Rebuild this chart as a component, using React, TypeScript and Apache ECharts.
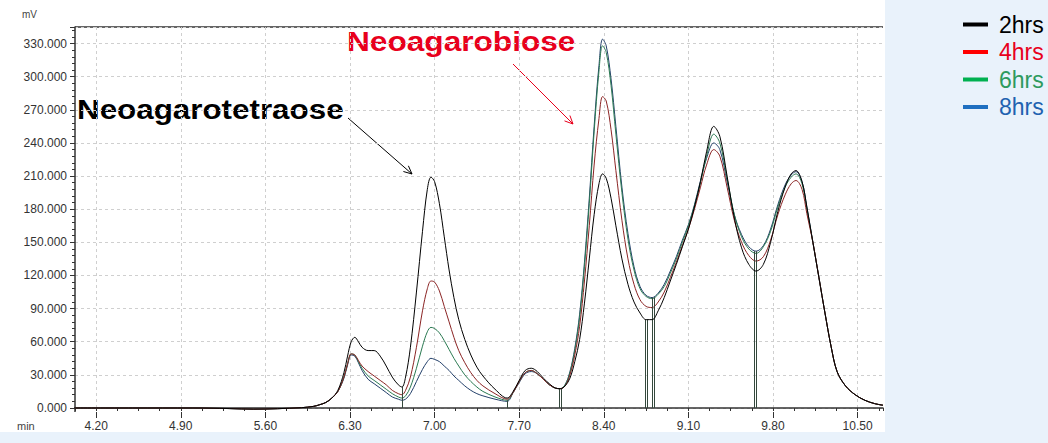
import React, { useEffect, useRef } from "react";
import * as echarts from "echarts";

// Retention time (min)
const times = [
  4.02, 4.5, 5.0, 5.3, 5.5, 5.7, 5.9, 6.0, 6.05, 6.1, 6.15, 6.2, 6.25, 6.28, 6.31, 6.34, 6.37, 6.4, 6.45, 6.5,
  6.55, 6.6, 6.65, 6.7, 6.73, 6.76, 6.8, 6.85, 6.9, 6.94, 6.97, 7.0, 7.04, 7.08, 7.12, 7.16, 7.2, 7.25, 7.3, 7.35,
  7.4, 7.5, 7.6, 7.65, 7.7, 7.75, 7.8, 7.85, 7.9, 7.95, 8.0, 8.04, 8.08, 8.12, 8.16, 8.2, 8.24, 8.28, 8.32, 8.36,
  8.39, 8.42, 8.46, 8.5, 8.55, 8.6, 8.65, 8.7, 8.75, 8.8, 8.85, 8.9, 8.95, 9.0, 9.05, 9.1, 9.15, 9.2, 9.25, 9.31,
  9.36, 9.42, 9.48, 9.54, 9.6, 9.66, 9.72, 9.78, 9.84, 9.9, 9.95, 9.99, 10.04, 10.08, 10.13, 10.18, 10.23, 10.28, 10.33, 10.4,
  10.48, 10.56, 10.64, 10.71,
];

// Signal (mV)
const hrs2 = [
  0, 0, 0, -0.5, -1, -0.6, 0.3, 1.5, 3, 5, 9, 16, 32, 47, 60, 64, 60, 55, 52, 52,
  47, 38, 28, 21, 19, 28, 55, 105, 160, 198, 209, 205, 185, 155, 125, 100, 80, 62, 48, 37,
  29, 17, 9, 15, 25, 34, 36, 33, 27, 22, 18, 17.5, 20, 27, 42, 62, 95, 135, 175, 203,
  212, 208, 190, 165, 135, 112, 96, 86, 80, 80, 88, 100, 115, 130, 146, 162, 182, 205, 232, 255,
  246, 210, 172, 145, 130, 124, 130, 150, 178, 200, 212, 215, 205, 182, 150, 118, 86, 56, 33, 20,
  12, 7, 4, 2.5,
];
const hrs4 = [
  0, 0, 0, -0.5, -1, -0.6, 0.3, 1.5, 3, 5, 9, 15, 28, 40, 49, 48, 43, 38, 33, 29,
  25, 21, 16, 13, 12, 16, 28, 55, 88, 108, 115, 114, 106, 92, 78, 64, 52, 41, 32, 25,
  20, 13, 8, 14, 24, 32, 34, 31, 26, 21, 18, 17.5, 20, 30, 48, 74, 115, 165, 220, 262,
  282, 278, 252, 215, 170, 135, 112, 98, 92, 91, 96, 105, 118, 132, 147, 162, 180, 200, 220, 234,
  228, 200, 170, 150, 138, 133, 137, 152, 175, 193, 203, 206, 198, 176, 150, 118, 86, 56, 33, 20,
  12, 7, 4, 2.5,
];
const hrs6 = [
  0, 0, 0, -0.5, -1, -0.6, 0.3, 1.5, 3, 5, 9, 15, 28, 40, 49, 48, 42, 36, 29, 25,
  21, 17, 13, 10, 9, 11, 19, 36, 56, 69, 73, 72, 68, 61, 53, 45, 38, 30, 24, 19,
  15, 10, 7, 14, 24, 32, 34, 31, 26, 21, 18, 17.5, 21, 32, 52, 82, 128, 185, 250, 305,
  328, 322, 292, 248, 195, 153, 125, 108, 101, 99, 103, 110, 122, 135, 150, 165, 183, 204, 228, 248,
  240, 208, 175, 155, 144, 140, 146, 160, 182, 200, 209, 212, 203, 180, 150, 118, 86, 56, 33, 20,
  12, 7, 4, 2.5,
];
const hrs8 = [
  0, 0, 0, -0.5, -1, -0.6, 0.3, 1.5, 3, 5, 9, 15, 27, 39, 48, 47, 41, 34, 26, 22,
  18, 14, 10, 8, 7, 8, 13, 24, 35, 42, 45, 44, 42, 38, 34, 29, 25, 20, 16, 13,
  11, 8, 6, 14, 23, 31, 33, 31, 26, 21, 18, 17.5, 21, 33, 54, 85, 132, 190, 255, 310,
  334, 328, 298, 255, 200, 158, 128, 110, 102, 100, 104, 112, 124, 137, 152, 166, 184, 206, 226, 240,
  234, 205, 175, 157, 146, 142, 147, 162, 184, 202, 211, 214, 205, 182, 150, 118, 86, 56, 33, 20,
  12, 7, 4, 2.5,
];

const seriesNames = ["2hrs", "4hrs", "6hrs", "8hrs"];
const seriesValues = [hrs2, hrs4, hrs6, hrs8];
const traceColors = ["#000000", "#8b2424", "#2b7a52", "#23406a"];
const legendLineColors = ["#000000", "#ff0000", "#00b050", "#1f6fc0"];
const legendTextColors = ["#000000", "#e8001c", "#2e9a5e", "#1f62b0"];

// Integration drop lines (time, height)
const dropTimes = [6.73, 7.6, 8.03, 8.045, 8.745, 8.76, 8.8, 8.815, 9.645, 9.66];
const dropValues = [19, 7, 17.5, 17.5, 80, 80, 100, 100, 142, 142];

const xMajorTicks = [4.2, 4.9, 5.6, 6.3, 7.0, 7.7, 8.4, 9.1, 9.8, 10.5];
const xMin = 4.025;
const xMax = 10.71;
const xMinorStep = 0.175;
const yMax = 345;
const yStep = 30;

export default function App() {
  const ref = useRef<HTMLDivElement>(null);

  useEffect(() => {
    document.body.style.margin = "0";
    if (!ref.current) return;
    const chart = echarts.init(ref.current, null, { renderer: "svg" });

    const lineSeries = seriesNames.map((name, i) => ({
      name,
      type: "line",
      xAxisIndex: 0,
      yAxisIndex: 0,
      data: times.map((t, k) => [t, seriesValues[i][k]]),
      showSymbol: false,
      symbol: "none",
      smooth: 0.35,
      clip: false,
      lineStyle: { color: traceColors[i], width: 1 },
      itemStyle: { color: traceColors[i] },
      z: 5 - i,
      markLine:
        i === 0
          ? {
              silent: true,
              symbol: ["none", "none"],
              label: { show: false },
              lineStyle: { color: "#34483c", width: 1, type: "solid" },
              data: dropTimes.map((t, k) => [
                { coord: [t, 0] },
                { coord: [t, dropValues[k]] },
              ]),
            }
          : undefined,
    }));

    const labelFont = {
      fontFamily: "Liberation Sans, Arial, sans-serif",
      fontSize: 12,
      color: "#333",
    };

    const option: any = {
      animation: false,
      backgroundColor: "transparent",
      grid: { left: 75, right: 165, top: 27, bottom: 35, containLabel: false },
      xAxis: [
        {
          type: "value",
          min: xMin,
          max: xMax,
          interval: xMinorStep,
          offset: 4,
          axisLine: { show: true, lineStyle: { color: "#333", width: 1.5 } },
          axisTick: { show: true, length: 3, lineStyle: { color: "#333" } },
          axisLabel: { show: false },
          splitLine: { show: false },
        },
        {
          type: "value",
          position: "bottom",
          min: xMin,
          max: xMax,
          offset: 4,
          axisLine: { show: false },
          axisTick: { show: true, length: 6, customValues: xMajorTicks, lineStyle: { color: "#333" } },
          axisLabel: {
            show: true,
            customValues: xMajorTicks,
            margin: 8,
            formatter: (v: number) => v.toFixed(2),
            ...labelFont,
          },
          splitLine: { show: true, lineStyle: { color: "#cfcfcf", type: [3, 3], width: 1 } },
        },
      ],
      yAxis: {
        type: "value",
        min: 0,
        max: yMax,
        interval: yStep,
        axisLine: { show: true, lineStyle: { color: "#333", width: 1.5 } },
        axisTick: { show: true, length: 5, lineStyle: { color: "#333" } },
        minorTick: { show: true, splitNumber: 5, length: 3, lineStyle: { color: "#333" } },
        axisLabel: {
          showMaxLabel: false,
          margin: 8,
          formatter: (v: number) => (v > 330 ? "" : v.toFixed(3)),
          ...labelFont,
        },
        splitLine: { show: true, lineStyle: { color: "#cfcfcf", type: [3, 3], width: 1 } },
      },
      legend: {
        orient: "vertical",
        left: 958,
        top: 8,
        itemWidth: 25,
        itemHeight: 4,
        itemGap: 4.5,
        icon: "rect",
        selectedMode: false,
        textStyle: {
          fontFamily: "Liberation Sans, Arial, sans-serif",
          fontSize: 23,
          padding: [0, 0, 0, 6],
        },
        data: seriesNames.map((n, i) => ({
          name: n,
          itemStyle: { color: legendLineColors[i] },
          textStyle: { color: legendTextColors[i] },
        })),
      },
      graphic: [
        {
          type: "rect",
          z: -100,
          silent: true,
          shape: { x: 0, y: 0, width: 885, height: 432 },
          style: { fill: "#ffffff" },
        },
        {
          type: "line",
          silent: true,
          shape: { x1: 75, y1: 27, x2: 883, y2: 27 },
          style: { stroke: "#333", lineWidth: 1.5 },
        },
        {
          type: "line",
          silent: true,
          shape: { x1: 75, y1: 407, x2: 75, y2: 412 },
          style: { stroke: "#333", lineWidth: 1.5 },
        },
        {
          type: "text",
          x: 22,
          y: 9,
          style: { text: "mV", fontSize: 10, fill: "#444", fontFamily: "Liberation Sans, Arial, sans-serif" },
        },
        {
          type: "text",
          x: 17,
          y: 420,
          style: { text: "min", fontSize: 11, fill: "#444", fontFamily: "Liberation Sans, Arial, sans-serif" },
        },
        {
          type: "text",
          x: 77,
          y: 95,
          scaleX: 1.12,
          style: {
            text: "Neoagarotetraose",
            fontSize: 28,
            fontWeight: "bold",
            fill: "#000",
            fontFamily: "Liberation Sans, Arial, sans-serif",
          },
        },
        {
          type: "text",
          x: 347,
          y: 27,
          scaleX: 1.13,
          style: {
            text: "Neoagarobiose",
            fontSize: 28,
            fontWeight: "bold",
            fill: "#e8001c",
            fontFamily: "Liberation Sans, Arial, sans-serif",
          },
        },
        {
          type: "line",
          silent: true,
          shape: { x1: 348, y1: 118, x2: 412, y2: 174 },
          style: { stroke: "#000", lineWidth: 1 },
        },
        {
          type: "polyline",
          silent: true,
          shape: { points: [[408.4, 165.8], [412, 174], [403.4, 171.5]] },
          style: { stroke: "#000", lineWidth: 1, fill: null },
        },
        {
          type: "line",
          silent: true,
          shape: { x1: 513, y1: 64, x2: 573, y2: 124 },
          style: { stroke: "#e8001c", lineWidth: 1 },
        },
        {
          type: "polyline",
          silent: true,
          shape: { points: [[569.9, 115.5], [573, 124], [564.5, 120.9]] },
          style: { stroke: "#e8001c", lineWidth: 1, fill: null },
        },
      ],
      series: lineSeries,
    };

    chart.setOption(option);
    return () => chart.dispose();
  }, []);

  return (
    <div style={{ width: 1048, height: 443, background: "#e9f2fb" }}>
      <div ref={ref} style={{ width: 1048, height: 443 }} />
    </div>
  );
}
